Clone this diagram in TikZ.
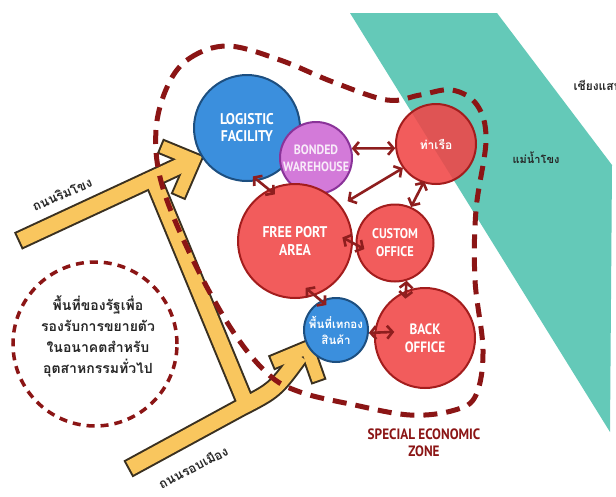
\documentclass[tikz,border=0pt]{standalone}
\usepackage{fontspec}
\setmainfont{PT Sans}
\newfontfamily\latf[FakeStretch=0.88]{PT Sans}
\newfontfamily\thaif[Script=Thai]{Loma}
\usetikzlibrary{arrows.meta}
\definecolor{riverc}{HTML}{64C9B8}
\definecolor{bluec}{HTML}{3B8FDD}
\definecolor{blueo}{HTML}{1D4F80}
\definecolor{purpc}{HTML}{D37AD9}
\definecolor{purpo}{HTML}{8A3399}
\definecolor{redc}{HTML}{F25C5C}
\definecolor{redo}{HTML}{A31D1D}
\definecolor{roadc}{HTML}{F9C65E}
\definecolor{roado}{HTML}{3A3020}
\definecolor{dashc}{HTML}{8B1515}
\definecolor{arrc}{HTML}{8E1E1E}
\tikzset{
  zone/.style={circle,inner sep=0pt,line width=2pt,align=center,text=white},
  redzone/.style={zone,fill=redc,draw=redo},
  bluezone/.style={zone,fill=bluec,draw=blueo},
  purpzone/.style={zone,fill=purpc,draw=purpo,text=white!85!purpc},
  thailab/.style={font=\thaif\bfseries\fontsize{12}{16}\selectfont},
  biarr/.style={draw=arrc,line width=2.6pt,{Straight Barb[length=5.5pt,width=13pt]}-{Straight Barb[length=5.5pt,width=13pt]}},
  roadout/.style={draw=roado,line width=19pt},
  roadin/.style={draw=roadc,line width=15pt},
  barbout/.style={draw=roado,line width=16pt,line join=miter},
  barbin/.style={draw=roadc,line width=12pt,line join=miter},
}
\begin{document}
\begin{tikzpicture}[x=1pt,y=-1pt]
\useasboundingbox (0,0) rectangle (616,496);
\fill[white] (0,0) rectangle (616,496);
% river
\fill[riverc] (350,13) -- (497,13) -- (612,165) -- (610,432) -- cycle;
% road coordinates
\coordinate (a0) at (18,241);
\coordinate (a1) at (186,163);
\coordinate (at) at (194,160);
\coordinate (ab1) at (160,146);
\coordinate (ab2) at (178,197);
\coordinate (b0) at (150,172);
\coordinate (b1) at (246,404);
\coordinate (c0) at (128,469);
\coordinate (c1) at (240,408);
\coordinate (c2) at (300,356);
\coordinate (ct) at (307,348);
\coordinate (cb1) at (271,363);
\coordinate (cb2) at (319,382);
% road outlines
\draw[roadout] (a0) -- (a1);
\draw[roadout] (b0) -- (b1);
\draw[roadout] (c0) -- (c1) .. controls (275,390) .. (c2);
\draw[barbout] (ab1) -- (at) -- (ab2);
\draw[barbout] (cb1) -- (ct) -- (cb2);
% road fills
\draw[roadin,shorten <=2pt] (a0) -- (a1);
\draw[roadin] (b0) -- (b1);
\draw[roadin,shorten <=2pt] (c0) -- (c1) .. controls (275,390) .. (c2);
\draw[barbin,shorten <=2pt,shorten >=2pt] (ab1) -- (at) -- (ab2);
\draw[barbin,shorten <=2pt,shorten >=2pt] (cb1) -- (ct) -- (cb2);
% special economic zone boundary
\draw[dashc,line width=5pt,dash pattern=on 14pt off 9pt]
  plot[smooth cycle,tension=0.6] coordinates {(168,85) (190,58) (228,46) (280,60) (333,82) (387,100) (420,95) (452,90) (477,105) (486,140) (476,210) (475,280) (483,350) (476,395) (455,410) (410,415) (350,404) (300,392) (268,374) (232,330) (192,258) (162,185) (156,130)};
% reserve area
\node[circle,draw=dashc,line width=3.5pt,dash pattern=on 8pt off 6pt,minimum size=164pt,inner sep=0pt] (resv) at (95,344) {};
\node[font=\thaif\bfseries\fontsize{14}{21}\selectfont,align=center,text=black!85] (resvtext) at (98,336) {พื้นที่ของรัฐเพื่อ\\รองรับการขยายตัว\\ในอนาคตสำหรับ\\อุตสาหกรรมทั่วไป};
% zones
\node[bluezone,minimum size=106pt,font=\latf\bfseries\fontsize{15.5}{17}\selectfont] (logi) at (247,128) {LOGISTIC\\FACILITY};
\node[purpzone,minimum size=72pt,font=\latf\bfseries\fontsize{13.5}{17}\selectfont] (bond) at (316,158) {BONDED\\WAREHOUSE};
\node[redzone,minimum size=80pt] (port) at (436,144) {};
\begin{scope}
  \clip (350,13) -- (497,13) -- (612,165) -- (610,432) -- cycle;
  \fill[black,opacity=0.08] (port.center) circle[radius=39pt];
\end{scope}
\node[thailab,text=white] (porttext) at (port.center) {ท่าเรือ};
\node[redzone,minimum size=114pt,font=\latf\bfseries\fontsize{15.5}{18}\selectfont] (free) at (295,241) {FREE PORT\\AREA};
\node[redzone,minimum size=77pt,font=\latf\bfseries\fontsize{14}{18}\selectfont] (cust) at (395,243) {CUSTOM\\OFFICE};
\node[redzone,minimum size=100pt,font=\latf\bfseries\fontsize{15}{18}\selectfont] (back) at (425,338) {BACK\\OFFICE};
\node[bluezone,minimum size=64pt,font=\thaif\bfseries\fontsize{11.5}{16}\selectfont] (bulk) at (336,330) {พื้นที่เทกอง\\สินค้า};
% connections
\draw[biarr,shorten <=-7pt,shorten >=-8pt] (logi.-78) -- (free.117);
\draw[biarr] (bond.15) -- (port.186);
\draw[biarr,shorten <=8pt] (free.38) -- (port.216);
\draw[biarr,shorten <=-2pt] (port.-108) -- (cust.66);
\draw[biarr,shorten <=-12pt,shorten >=-10pt] (free.-2) -- (cust.182);
\draw[biarr,shorten >=-8pt] (cust.-73) -- (back.112);
\draw[biarr,shorten <=-12pt,shorten >=-7pt] (free.-70) -- (bulk.117);
\draw[biarr,shorten >=-20pt] (bulk.-5) -- (back.174);
% labels
\node[text=dashc,align=center,font=\latf\bfseries\fontsize{15}{17}\selectfont] (sez) at (424,443) {SPECIAL ECONOMIC\\ZONE};
\node[thailab,text=black!85,font=\thaif\bfseries\fontsize{11}{16}\selectfont] (river) at (536,158) {แม่น้ำโขง};
\node[thailab,text=black!85,anchor=west] (town) at (570,85) {เชียงแสน};
\node[text=black!85,rotate=23,font=\thaif\bfseries\fontsize{13}{16}\selectfont] (rdA) at (62,194) {ถนนริมโขง};
\node[text=black!85,rotate=27,font=\thaif\bfseries\fontsize{13}{16}\selectfont] (rdC) at (193,467) {ถนนรอบเมือง};
\end{tikzpicture}
\end{document}
